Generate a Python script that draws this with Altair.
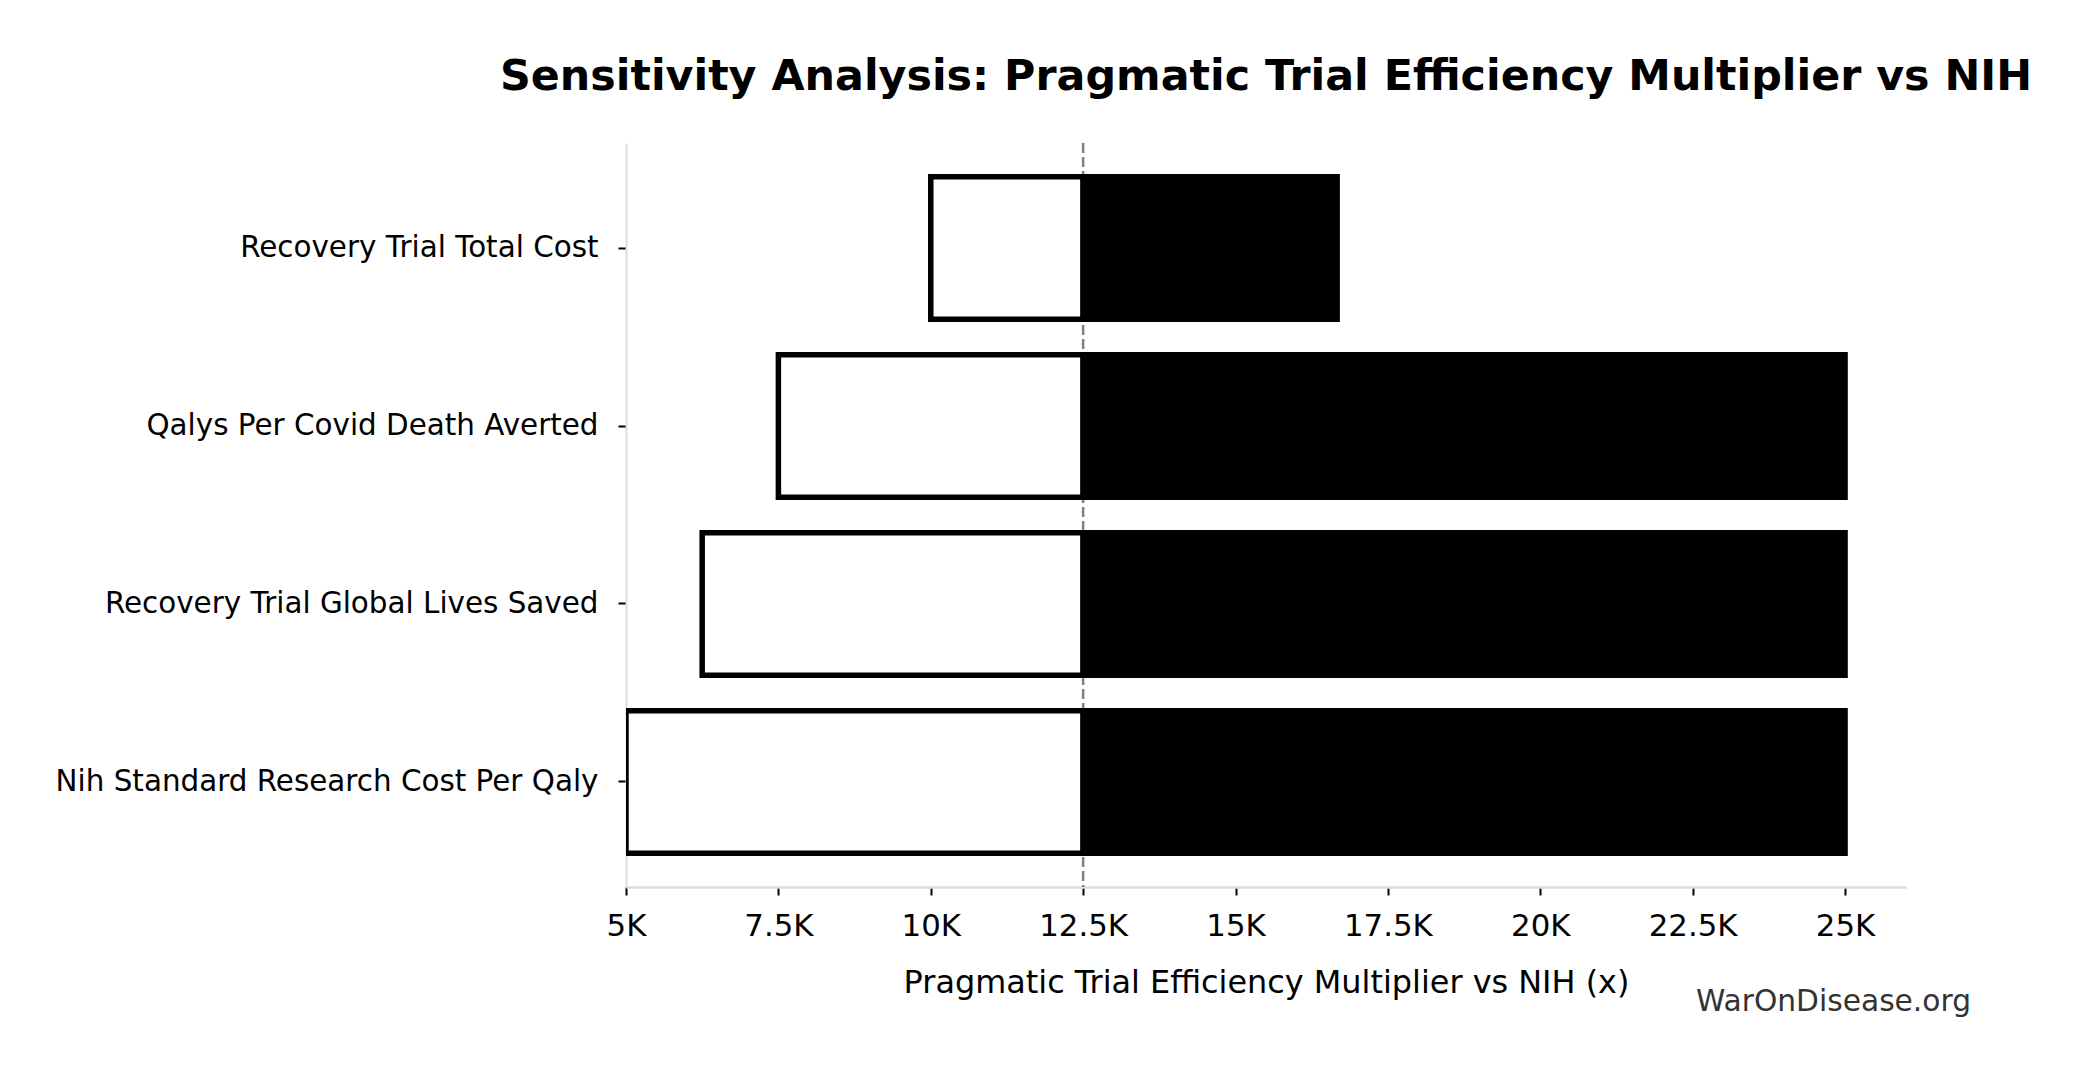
import altair as alt
import pandas as pd

categories = [
    "Recovery Trial Total Cost",
    "Qalys Per Covid Death Averted",
    "Recovery Trial Global Lives Saved",
    "Nih Standard Research Cost Per Qaly",
]
low_values = [10000, 7500, 6250, 5000]
high_values = [16667, 25000, 25000, 25000]
base_value = 12500
x_ticks = [5000, 7500, 10000, 12500, 15000, 17500, 20000, 22500, 25000]

title_text = "Sensitivity Analysis: Pragmatic Trial Efficiency Multiplier vs NIH"
x_title = "Pragmatic Trial Efficiency Multiplier vs NIH (x)"
watermark = "WarOnDisease.org"

FONT = "DejaVu Sans"

df = pd.DataFrame({
    "category": categories,
    "low": low_values,
    "high": high_values,
    "base": [base_value] * len(categories),
})

x_scale = alt.Scale(domain=[5000, 26000], nice=False, zero=False)
y_scale = alt.Scale(domain=categories, paddingInner=0.2, paddingOuter=0.19)

x_axis = alt.Axis(
    values=x_ticks,
    labelExpr="datum.value / 1000 + 'K'",
    title=x_title,
    grid=False,
    domainColor="#dddddd",
    domainWidth=2.5,
    tickColor="black",
    tickWidth=2,
    tickSize=8,
    labelFont=FONT,
    labelFontSize=30.8,
    labelColor="black",
    labelPadding=16,
    labelFlush=False,
    labelOverlap=False,
    titleFont=FONT,
    titleFontSize=31.9,
    titleFontWeight="normal",
    titleColor="black",
    titleBaseline="alphabetic",
    titleY=105,
)

y_axis = alt.Axis(
    title=None,
    grid=False,
    domainColor="#dddddd",
    domainWidth=2,
    tickColor="black",
    tickWidth=2,
    tickSize=8,
    labelFont=FONT,
    labelFontSize=29.4,
    labelColor="black",
    labelPadding=20,
    labelLimit=2000,
)

base = alt.Chart(df)

low_bars = base.mark_bar(
    fill="white", stroke="black", strokeWidth=5.5, clip=True, cornerRadius=0
).encode(
    x=alt.X("low:Q", scale=x_scale, axis=x_axis),
    x2="base:Q",
    y=alt.Y("category:N", scale=y_scale, axis=y_axis, sort=categories),
)

high_bars = base.mark_bar(
    fill="black", stroke="black", strokeWidth=5.5, clip=True
).encode(
    x=alt.X("base:Q", scale=x_scale),
    x2="high:Q",
    y=alt.Y("category:N", scale=y_scale, sort=categories),
)

rule = alt.Chart(pd.DataFrame({"v": [base_value]})).mark_rule(
    color="#808080", strokeWidth=2.5, strokeDash=[10, 4]
).encode(x=alt.X("v:Q", scale=x_scale))

wm = alt.Chart(pd.DataFrame({"t": [watermark]})).mark_text(
    font=FONT, fontSize=29.7, color="#333333", align="right", baseline="alphabetic"
).encode(
    text="t:N",
    x=alt.value(1345),
    y=alt.value(868),
)

chart = alt.layer(rule, low_bars, high_bars, wm).properties(
    width=1280,
    height=744,
    background="white",
    title=alt.TitleParams(
        text=title_text,
        font=FONT,
        fontSize=42.8,
        fontWeight="bold",
        color="black",
        anchor="middle",
        frame="group",
        baseline="alphabetic",
        offset=9,
    ),
    autosize=alt.AutoSizeParams(type="none"),
    padding={"left": 618, "top": 135, "right": 150, "bottom": 170},
).configure_view(stroke=None)

chart.save("out.html", embed_options={"renderer": "svg", "actions": False})
